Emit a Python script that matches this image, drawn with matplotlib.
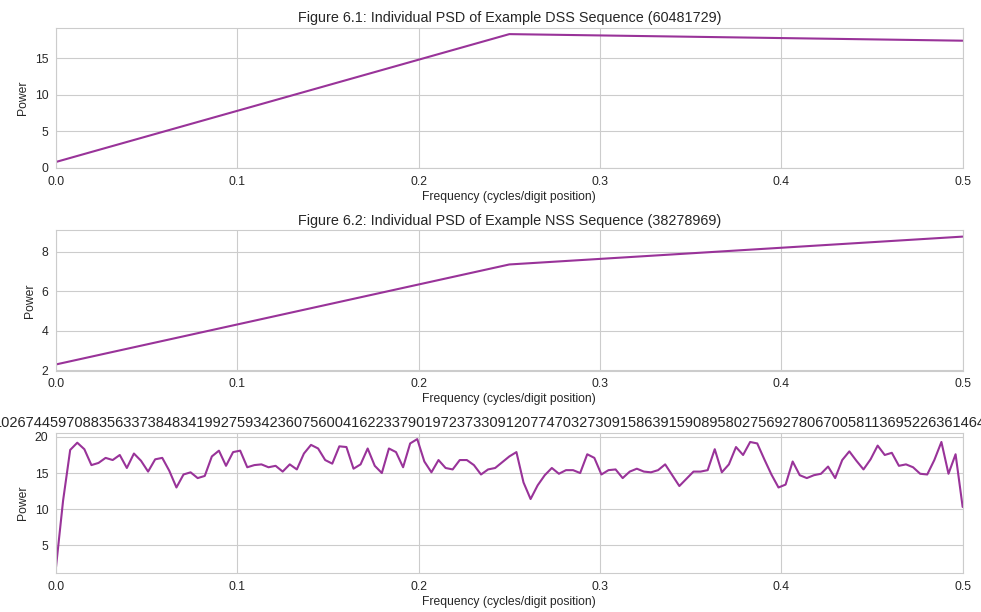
import numpy as np
import matplotlib
matplotlib.use('Agg')
import matplotlib.pyplot as plt
import seaborn as sns

sns.set_style('whitegrid')
plt.rcParams['font.family'] = ['Liberation Sans', 'DejaVu Sans']

# Figure 6.1 / 6.2: 8-digit sequences, 3 frequency bins
freq_short = [0.0, 0.25, 0.5]
psd_dss = [0.82, 18.3, 17.4]
psd_nss = [2.3, 7.36, 8.77]

# Figure 6.3: 256-digit sequence, 129 bins
n_long = 256
psd_long = [2.0, 11.2, 18.2, 19.2, 18.3, 16.1, 16.4, 17.1, 16.8, 17.5,
            15.7, 17.7, 16.7, 15.2, 16.9, 17.1, 15.3, 13.0, 14.8, 15.1,
            14.3, 14.6, 17.3, 18.1, 16.0, 17.9, 18.1, 15.8, 16.1, 16.2,
            15.8, 16.0, 15.2, 16.2, 15.5, 17.7, 18.9, 18.4, 16.8, 16.3,
            18.7, 18.6, 15.6, 16.2, 18.4, 16.0, 15.0, 18.4, 17.9, 15.8,
            19.1, 19.7, 16.6, 15.1, 16.8, 15.7, 15.5, 16.8, 16.8, 16.1,
            14.8, 15.5, 15.7, 16.5, 17.3, 17.9, 13.7, 11.4, 13.3, 14.7,
            15.7, 14.9, 15.4, 15.4, 15.0, 17.6, 17.1, 14.8, 15.4, 15.5,
            14.3, 15.2, 15.6, 15.2, 15.1, 15.4, 16.2, 14.7, 13.2, 14.2,
            15.2, 15.2, 15.4, 18.3, 15.1, 16.2, 18.6, 17.5, 19.3, 19.1,
            16.9, 14.8, 13.0, 13.4, 16.6, 14.7, 14.3, 14.7, 14.9, 15.9,
            14.3, 16.8, 18.0, 16.7, 15.5, 16.9, 18.8, 17.5, 17.8, 16.0,
            16.2, 15.8, 14.9, 14.8, 16.8, 19.3, 14.9, 17.6, 10.3]
freq_long = np.fft.rfftfreq(n_long)

# only the middle of the long sequence title is visible in the figure
long_seq_visible = ('1' + '0267445970883563373848341992759342360756'
                    '004162233790197237330912077470327309158639'
                    '159089580275692780670058113695226361464')

titles = ['Figure 6.1: Individual PSD of Example DSS Sequence (60481729)',
          'Figure 6.2: Individual PSD of Example NSS Sequence (38278969)',
          long_seq_visible]

line_color = (0.6, 0.2, 0.6)

fig, axes = plt.subplots(3, 1, figsize=(9.81, 6.12), dpi=100)
fig.subplots_adjust(left=0.0571, right=0.9813, top=0.9547, bottom=0.0632, hspace=0.44)

data = [(freq_short, psd_dss), (freq_short, psd_nss), (freq_long, psd_long)]
for ax, (f, p), t in zip(axes, data, titles):
    ax.plot(f, p, color=line_color, linewidth=1.5)
    ax.set_xlim(0, 0.5)
    ax.set_xlabel('Frequency (cycles/digit position)', fontsize=8.7, labelpad=2)
    ax.set_ylabel('Power', fontsize=8.7, labelpad=4)
    ax.tick_params(labelsize=8.8, pad=2)
    for s in ax.spines.values():
        s.set_color('#cccccc')
    ax.set_title(t, fontsize=10.4, pad=4)

axes[2].title.set_fontsize(10.5)
axes[2].title.set_x(0.4784)

fig.savefig('out.png', dpi=100)
